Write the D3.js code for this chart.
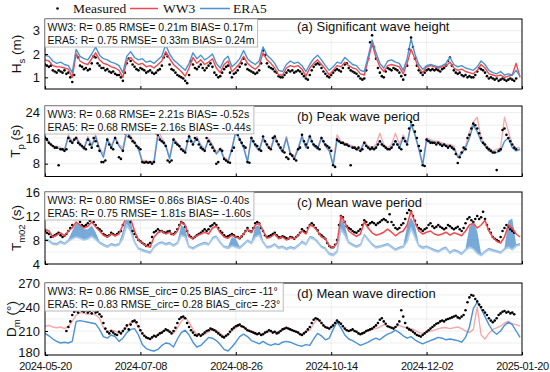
<!DOCTYPE html>
<html><head><meta charset="utf-8">
<script src="https://cdn.jsdelivr.net/npm/d3@7"></script>
<style>body{margin:0;background:#fff}svg{display:block}text{font-family:"Liberation Sans",Arial,sans-serif;fill:#111}</style>
</head><body><svg id="c" width="550" height="372"></svg>
<script>
// ---------------- DATA ----------------
const startDate = "2024-05-20";
const lineStepDays = 2;   // model series sampled every 2 days; measured sampled daily
const xTickLabels = ["2024-05-20","2024-07-08","2024-08-26","2024-10-14","2024-12-02","2025-01-20"];
const legendLabels = ["Measured","WW3","ERA5"];
const panelTitles = ["(a) Significant wave height","(b) Peak wave period","(c) Mean wave period","(d) Mean wave direction"];
const statsA = ["WW3: R= 0.85 RMSE= 0.21m BIAS= 0.17m","ERA5: R= 0.75 RMSE= 0.33m BIAS= 0.24m"];
const statsB = ["WW3: R= 0.68 RMSE= 2.21s BIAS= -0.52s","ERA5: R= 0.68 RMSE= 2.16s BIAS= -0.44s"];
const statsC = ["WW3: R= 0.80 RMSE= 0.86s BIAS= -0.40s","ERA5: R= 0.75 RMSE= 1.81s BIAS= -1.60s"];
const statsD = ["WW3: R= 0.86 RMSE_circ= 0.25 BIAS_circ= -11°","ERA5: R= 0.83 RMSE_circ= 0.28 BIAS_circ= -23°"];
const hsTicks = [1,2,3], tpTicks = [8,16,24], tmTicks = [4,8,12,16], dmTicks = [180,210,240,270];

const hsMeasured = [1.55,1.5,1.45,1.5,1.3,1.25,1.2,1.3,1.25,1.2, 1.3,1.15,1.2,1.0,0.8,1.1,1.95,1.85,1.5,1.45,
 1.35,1.4,1.3,1.35,1.6,1.9,1.85,1.6,1.5,1.4, 1.4,1.3,1.35,1.25,1.2,1.25,1.15,1.1,1.1,1.0,
 0.85,1.2,1.6,1.8,1.7,1.55,1.45,1.35,1.3,1.4, 1.35,1.3,1.2,1.25,1.3,1.2,1.15,1.2,1.3,1.35,
 1.5,1.85,2.0,1.9,1.55,1.35,1.3,1.2,1.1,1.05, 1.0,0.95,0.85,0.75,1.1,1.7,1.55,1.4,1.35,1.45,
 1.55,1.4,1.3,1.4,1.5,1.6,1.45,1.2,1.1,1.0, 1.05,1.2,1.35,1.45,1.5,1.2,1.0,1.15,1.2,1.3,
 1.45,1.6,1.8,1.55,1.35,1.3,1.25,1.2,1.15,1.2, 1.3,1.6,2.15,1.95,1.6,1.45,1.4,1.35,1.25,1.2,
 1.05,1.0,1.0,1.1,1.2,1.3,1.25,1.3,1.2,1.25, 1.3,1.25,1.15,1.05,0.95,0.9,1.1,1.3,1.45,1.55,
 1.6,1.55,1.4,1.25,1.15,1.05,1.0,1.1,1.2,1.3, 1.35,1.3,1.25,1.4,1.55,1.6,1.4,1.3,1.25,1.2,
 1.15,1.05,0.95,0.9,0.95,1.3,1.8,2.5,2.8,2.3, 1.8,1.4,1.2,1.05,1.0,1.25,1.4,1.35,1.3,1.4,
 1.35,1.3,1.2,1.05,0.9,1.1,1.5,2.2,2.7,2.3, 1.8,1.5,1.3,1.2,1.1,1.2,1.3,1.35,1.3,1.35,
 1.3,1.35,1.3,1.25,1.35,1.4,1.5,1.7,1.85,1.5, 1.3,1.2,1.15,1.2,1.1,1.05,1.1,1.0,1.05,1.0,
 1.0,1.1,1.25,1.4,1.35,1.3,1.2,1.05,0.95,1.0, 0.95,0.9,0.95,0.85,0.9,0.95,0.9,0.85,0.9,0.95,
 0.9,0.85,0.95,null,null,null];
const hsWW3 = [1.75,1.7,1.5,1.45,1.45,1.4,1.35,1.0,2.0,1.7, 1.6,1.55,1.8,2.05,1.75,1.6,1.55,1.45,1.4,1.3,
 1.0,1.7,1.85,1.65,1.55,1.6,1.45,1.5,1.4,1.55, 1.7,2.1,1.8,1.55,1.4,1.25,1.05,1.4,1.85,1.6,
 1.75,1.55,1.65,1.8,1.4,1.2,1.55,1.7,1.25,1.4, 1.6,1.9,1.6,1.45,1.35,1.5,2.05,1.75,1.6,1.4,
 1.1,1.1,1.4,1.5,1.45,1.5,1.35,1.05,1.4,1.6, 1.75,1.55,1.35,1.1,1.3,1.5,1.45,1.65,1.5,1.4,
 1.35,1.15,1.1,1.75,2.45,1.85,1.45,1.25,1.5,1.55, 1.5,1.45,1.15,1.6,2.2,1.8,1.4,1.2,1.45,1.5,
 1.45,1.4,1.45,1.5,1.65,1.4,1.3,1.35,1.25,1.2, 1.15,1.3,1.55,1.4,1.15,1.1,1.05,1.1,1.0,1.05,
 1.1,1.6,1.0];
const hsERA5 = [1.95,1.9,1.7,1.6,1.65,1.55,1.5,1.2,2.2,1.9, 1.8,1.75,2.0,2.3,1.95,1.8,1.75,1.65,1.6,1.5,
 1.2,1.9,2.1,1.85,1.75,1.8,1.65,1.7,1.6,1.75, 1.9,2.4,2.0,1.75,1.6,1.45,1.3,1.6,2.05,1.8,
 1.95,1.75,1.85,2.0,1.6,1.4,1.75,1.9,1.45,1.6, 1.8,2.15,1.8,1.65,1.55,1.7,2.3,1.95,1.8,1.6,
 1.3,1.25,1.55,1.7,1.6,1.65,1.5,1.25,1.55,1.8, 1.95,1.75,1.5,1.3,1.45,1.65,1.6,1.85,1.7,1.55,
 1.5,1.3,1.25,1.9,2.6,2.05,1.6,1.4,1.7,1.75, 1.65,1.6,1.3,1.8,2.65,2.0,1.55,1.35,1.5,1.55,
 1.5,1.45,1.5,1.6,1.85,1.55,1.45,1.5,1.4,1.35, 1.3,1.45,1.7,1.55,1.3,1.2,1.15,1.25,1.1,1.15,
 1.1,1.3,1.05];

const tpMeasured = [16,15.5,14.5,14,13.5,13,13,7.5,12.5,12.5, 12,12.5,16,15,14.5,15.5,16,14.5,14,13.5,
 13,12.5,15.5,14,13,16,15,13.5,12,8.5, 8.5,9,15.5,14,13,12.5,16,14.5,10,9.5,
 12,17.5,18,16.5,16,15,14.5,13.5,13,12.5, 8.5,8.3,8.5,8.3,8.5,8,8.5,17.5,17,15.5,
 15,14.5,13.5,9,8.5,9,15.5,14.5,14,13.5, 12.5,12,11.5,15,16.5,15,14,16,15.5,14,
 13,12.5,12,16,15,14,13,12,8,8.5, 12.5,12,9.5,9,8.5,8.3,12,13,18,17,
 15.5,14.5,13.5,13,8.5,8.3,16,15,14,13.5, 12.5,12,16.5,15,14,13,12.5,16,16.5,15,
 14,13,12,11.5,10,9.5,11,10.5,9.5,9, 12.5,13,17,15,14,13,16.5,15,14,13.5,
 13,12.5,16,15,14,13.5,13,12,7.5,7, 15.5,15,14.5,14.5,14,14,13.5,7.5,13,13,
 12.5,13,12,12.5,14.5,13.5,13,12.5,13,12.5, 13,14,15,14,13.5,13,12.5,12.5,13,14,
 15,14,13,12.5,16,15,14,19,21,20, 18,16,13.5,12,7.5,7.3,15.5,15,14.5,14.5,
 14.5,14,14.5,14,13.5,14,13.5,13,13.5,13, 12.5,11,8.2,10,11.5,13,12.5,16,17,19,
 20.5,20,19,17.5,16,14.5,14,13,12.5,12, 11.5,11.5,6,12,12.5,18.5,19,17,16,15,
 14,13,12.5,null,null,null];
const tpWW3 = [16,15,13.5,13.5,13,12.5,17,15,16.5,14.5, 13,16.5,14,17,13,11,16,13.5,16.5,14,
 13,19,16.5,15,13,9,9,8.5,9,18.5, 16,14,10,16,14.5,13,12,17,14.5,16.5,
 14,12.5,16,14,11.5,13,10,9,13,18.5, 16,13.5,9,16.5,14,12.5,16.5,14,13,17,
 14,12,16.5,11.5,10,13,17,13.5,17,14, 13,16.5,14,12.5,8,17,15,14.5,14,13.5,
 13,12.5,15,13.5,13,14,17.5,14,13,14, 17.5,14,17,14.5,20,17.5,13,8,16,15.5,
 15,15,14.5,14,14,13.5,10.5,11.5,13.5,18, 21,22.5,16,14,13,12,12.5,13,22.5,18,
 14,13,13];
const tpERA5 = [16.5,14.5,13.5,13,12.5,12,16.5,14.5,16,14, 12.5,16,13.5,16.5,12.5,10,15.5,13,16,13.5,
 12,18,16,14.5,12.5,8.5,8.5,8.3,8.5,17, 15,13.5,9.5,15.5,14,12.5,11.5,16.5,14,16,
 13.5,12,15.5,13.5,11,12.5,9.5,8.5,12.5,18, 15.5,13,8.5,16,13.5,12,16,13.5,12.5,16.5,
 13.5,11.5,16,11,9.5,12.5,16.5,13,16.5,13.5, 12.5,16,13.5,12,7.5,15.5,14.5,14,13.5,13,
 12.5,12,14.5,13,12.5,13,15,13.5,12.5,13, 15,13,16,14,20.5,17,12.5,7.5,15.5,15,
 14.5,14.5,14,13.5,13.5,13,10,11,13,16, 20,18,15,13.5,12,11.5,11.5,12,15,16,
 13,12,12.5];

const tmMeasured = [9.5,9.2,9,8.5,8.6,8.8,9,9.2,8.8,8.5, 8.7,9,9.5,10,10.5,11.5,12,11.5,11,10.5,
 10.3,10.5,10.8,11.2,11.5,11,10.5,10,9.8,9.5, 9,8.8,8.6,8.8,9.2,9,8.8,9,9.3,9.5,
 10.5,11.5,12.3,12,11,9.5,9,8.5,8,7.8, 7.5,7.3,7,7.2,7.5,8.5,9.3,9.5,9.8,9.5,
 9.5,9.3,9.2,9.4,9.5,9,9,9.3,9.8,10.5, 11,10.8,10.2,9.5,8.8,8.5,8.3,8.5,8.8,9,
 9.2,9.5,9.8,9.5,9.8,10.3,10.5,10.8,10.5,10, 9.5,9.2,8.8,8.5,8.6,8.8,9,8.8,8.5,8.5,
 8.3,8.6,9,9.5,10,9.5,9.4,10,10.8,11, 10.8,10,9.5,8.8,8.5,8.6,8.8,9,9.2,8.8,
 8.5,8.4,8.6,8.5,8.3,8.2,8.5,8.4,8.2,8.5, 8.8,9.2,9.8,9.5,9.3,10,10.5,10.8,10.5,10,
 9.6,9,8.8,8.5,8.2,7.5,7,6.8,6.8,7.2, 8,10.5,12,11.8,11,10.3,10,9.8,9.5,9.3,
 9.2,9.5,9.8,10.5,11.3,11,10.5,10.8,11,10.8, 10.5,10.8,11,11.3,11.5,11.3,11,12.3,11,10.5,
 10,9.8,10,10.5,10.8,11.5,12.5,13,12.8,12, 11.2,10.5,10,9.8,9.5,9.8,10,10.5,10.8,10.3,
 10,10.2,10.5,10.2,10,9.8,10,10.5,10.3,10, 9.8,10,10.2,9.8,9.5,10,10.8,11.5,11.8,11.3,
 11,11.5,12,11.5,11.8,12.7,11.5,10.5,9.8,9.2, 8.5,8.2,8,7.8,8.5,9.5,10,10.5,10.2,9.8,
 9.5,9.2,null,null,null,null];
const tmWW3 = [9.8,9.5,8.5,8.8,9.2,8.7,9.5,10,11,10.5, 10,10.3,11,10.2,9.5,8.8,8.5,9,8.7,9,
 10.5,12,11.5,9.5,8,7.5,7,6.8,8.5,9.2, 9.5,9,9.3,8.8,9.5,11,10.5,8.5,8.3,8.7,
 9,9.3,9,10,10.3,9.2,8.5,8.3,8.8,8.5, 8.3,9,9.8,9.2,10.5,10.8,9.5,8.3,8.5,9,
 8.2,8.5,8,8.4,8.2,8.8,9.5,9,10.5,10.2, 9.5,8.5,8.2,7,6.7,7.5,12,11,9.5,9,
 8.6,9,11,10,9.2,8.8,9,9.3,9.8,9.3, 8.7,9.2,9.5,10.5,12.8,11,9.5,9,9.3,9.5,
 9,8.8,9,9.3,8.8,9.2,9,8.7,9.5,10.5, 10.8,10,10.5,11.3,9.5,8.5,7.8,7.5,8.5,10.5,
 10,9,8.5];
const tmERA5 = [8,7.8,7.3,7.2,7.6,7.3,7.8,8.2,8.5,8.3, 8,8.2,8.6,8.1,7.5,7.1,6.8,7.2,7,7.2,
 8.3,10.5,9.5,7.6,6.5,6.2,6,5.8,6.8,7.3, 7.5,7.2,7.4,7,7.4,8.8,8.5,6.8,6.5,6.9,
 7.2,7.4,7.2,8.2,8.5,7.5,6.8,6.6,7,6.8, 6.6,7.2,7.8,7.4,8.5,8.8,7.6,6.7,6.8,7.2,
 6.6,6.8,6.4,6.7,6.5,7,7.6,7.2,8.4,8.2, 7.6,6.8,6.5,5.6,5.4,6,9.8,8.8,7.5,7.1,
 6.8,7.1,8.8,8,7.2,6.7,6.8,7,7.2,6.8, 6.3,6.6,6.8,7.8,10,8.5,7,6.6,6.8,6.5,
 6.2,6,6.4,6.6,5.8,6.2,6,5.6,6.3,6.8, 6.5,5.8,5.4,6,6.4,6.2,6,5.8,6.4,6.8,
 6.4,7,7.2];
const tmERA5Upper = [8.3,8.1,7.6,7.5,7.9,7.6,8.1,9.5,10.8,10.6, 9.8,9.8,10.4,9.3,7.8,7.4,7.1,7.5,7.3,7.5,
 9.5,12.2,11.3,7.9,6.8,6.5,6.3,6.1,7.1,7.6, 7.8,7.5,7.7,7.3,7.7,10.5,10,7.1,6.8,7.2,
 7.5,7.7,7.5,8.5,8.8,7.8,7.1,6.9,8.5,8.2, 6.9,7.5,8.1,7.7,10.2,10.5,7.9,7,7.1,7.5,
 6.9,7.1,6.7,7,6.8,7.3,7.9,7.5,8.7,8.5, 7.9,7.1,6.8,5.9,5.7,6.3,11.8,10.5,7.8,7.4,
 7.1,7.4,9.1,8.3,7.5,7,7.1,7.3,7.5,7.1, 6.6,6.9,7.1,10.3,11.8,10.5,7.3,6.9,7.1,6.8,
 6.5,6.3,6.7,6.9,6.1,6.5,6.3,5.9,6.6,10.2, 10.8,9.5,5.7,6.3,6.7,6.5,6.3,6.1,6.7,11.2,
 11.6,7.3,7.5];

const dmMeasured = [null,null,null,null,null,null,null,null,null,null, null,210,215,222,230,234,236,233,237,235,
 234,236,233,235,232,236,233,234,231,228, 220,213,209,207,210,208,206,205,209,207,
 210,213,217,212,218,222,223,221,216,211, 207,204,202,201,200,202,204,203,205,207,
 208,210,212,211,209,207,210,214,220,225, 227,228,226,220,215,211,208,205,204,206,
 204,206,208,210,211,213,212,211,209,207, 205,203,202,204,206,209,212,214,216,217,
 218,216,215,213,211,210,209,208,207,206, 207,205,206,208,209,211,210,208,209,207,
 208,210,212,213,214,213,212,211,210,209, 208,206,205,207,209,212,215,220,224,226,
 225,223,220,217,215,214,213,215,217,220, 223,221,219,216,213,211,210,211,212,210,
 209,207,206,207,208,210,211,212,213,215, 217,220,224,226,222,219,216,215,214,213,
 215,218,222,236,228,220,214,212,211,209, 207,205,204,203,205,207,209,211,213,215,
 217,219,220,222,223,222,224,225,226,227, 228,229,227,226,228,230,236,246,252,255,
 254,250,247,243,240,236,233,230,226,223, 221,223,226,230,232,234,235,233,234,232,
 233,231,null,null,null,null];
const dmWW3 = [216,217,215,214,215,213,216,222,230,233, 232,231,232,230,226,214,209,211,210,207,
 209,215,221,222,215,206,202,201,203,206, 208,211,210,207,214,222,227,221,212,206,
 204,206,209,212,211,207,203,205,210,214, 217,215,212,210,208,207,206,208,210,208,
 209,212,213,212,210,208,206,209,211,219, 225,221,214,213,218,223,219,212,210,211,
 209,207,208,210,212,213,215,218,216,214, 215,217,215,214,213,211,208,207,208,210,
 211,213,214,214,213,214,215,213,210,208, 212,240,205,200,207,212,214,216,220,222,
 219,218,216];
const dmERA5 = [207,204,200,197,195,196,195,197,222,223, 222,221,220,219,212,203,201,205,203,197,
 201,208,212,213,205,193,188,186,185,187, 192,195,194,190,200,208,211,205,196,190,
 192,197,202,201,198,193,187,185,190,196, 203,206,203,198,196,194,197,194,192,194,
 193,196,197,196,194,192,191,193,192,200, 207,204,199,201,212,221,214,205,200,198,
 195,192,194,196,199,201,199,203,206,208, 211,208,204,201,203,199,196,194,196,198,
 200,202,201,199,200,199,198,196,202,215, 238,246,238,228,218,210,206,210,217,221,
 218,210,202];

// ---------------- CHART ----------------
const RED = "#ee4a4d", PINK = "#f6a9ab", BLUE = "#4a92d3", LIGHTBLUE = "#a9cbea", DARKBLUE = "#4a8ccc";
const FONT = '"Liberation Sans",Arial,sans-serif';
const SERIF = '"Liberation Serif","Times New Roman",serif';
const svg = d3.select("#c");
const parse = d3.utcParse("%Y-%m-%d");
const t0 = parse(startDate);
const dayDates = hsMeasured.map((_, i) => d3.utcDay.offset(t0, i));
const lineDates = hsWW3.map((_, i) => d3.utcDay.offset(t0, i * lineStepDays));
const tickDates = xTickLabels.map(parse);
const X0 = 45, X1 = 522;
const x = d3.scaleUtc().domain([tickDates[0], tickDates[tickDates.length-1]]).range([X0, X1]);

const panels = [
 {top:19, bottom:89, domain:[0.5,3.5], ticks:hsTicks, grid:0.5, label:["H","s"," (m)"], labelX:21, title:panelTitles[0], titleY:31, stats:statsA,
  draw:[{type:"dots", data:hsMeasured}, {type:"line", data:hsWW3, color:RED, w:1.4}, {type:"line", data:hsERA5, color:BLUE, w:1.4}]},
 {top:106, bottom:176.5, domain:[4,26], ticks:tpTicks, grid:4, label:["T","p"," (s)"], labelX:20, title:panelTitles[1], titleY:120.5, stats:statsB,
  draw:[{type:"line", data:tpWW3, color:PINK, w:1.3}, {type:"line", data:tpERA5, color:BLUE, w:1.4}, {type:"dots", data:tpMeasured}]},
 {top:192, bottom:264, domain:[4,16], ticks:tmTicks, grid:2, label:["T","m02"," (s)"], labelX:21, title:panelTitles[2], titleY:206.5, stats:statsC,
  draw:[{type:"band", lo:tmERA5, hi:tmERA5Upper, color:DARKBLUE}, {type:"line", data:tmERA5, color:LIGHTBLUE, w:1.8}, {type:"dots", data:tmMeasured}, {type:"line", data:tmWW3, color:RED, w:1.5}]},
 {top:283, bottom:355, domain:[180,270], ticks:dmTicks, grid:15, label:["D","m"," (°)"], labelX:16, title:panelTitles[3], titleY:298, stats:statsD,
  draw:[{type:"line", data:dmWW3, color:PINK, w:1.4}, {type:"line", data:dmERA5, color:BLUE, w:1.4}, {type:"dots", data:dmMeasured}]}
];

panels.forEach((p, pi) => {
  const y = d3.scaleLinear().domain(p.domain).range([p.bottom, p.top]);
  const g = svg.append("g");
  const clipId = "clip" + pi;
  svg.append("clipPath").attr("id", clipId).append("rect")
    .attr("x", X0).attr("y", p.top).attr("width", X1 - X0).attr("height", p.bottom - p.top);
  // grid
  const gridVals = d3.range(p.domain[0], p.domain[1] + 1e-9, p.grid);
  g.selectAll(".hg").data(gridVals).join("line")
    .attr("x1", X0).attr("x2", X1).attr("y1", d => y(d)).attr("y2", d => y(d))
    .attr("stroke", "#e6e6e6").attr("stroke-width", 0.7);
  g.selectAll(".vg").data(tickDates.slice(1, -1)).join("line")
    .attr("x1", d => x(d)).attr("x2", d => x(d)).attr("y1", p.top).attr("y2", p.bottom)
    .attr("stroke", "#e6e6e6").attr("stroke-width", 0.7);

  const plot = g.append("g").attr("clip-path", `url(#${clipId})`);
  p.draw.forEach(s => {
    if (s.type === "line") {
      const line = d3.line().defined(v => v != null).x((v, i) => x(lineDates[i])).y(v => y(v));
      plot.append("path").attr("d", line(s.data)).attr("fill", "none")
        .attr("stroke", s.color).attr("stroke-width", s.w).attr("stroke-linejoin", "round");
    } else if (s.type === "band") {
      const area = d3.area().x((v, i) => x(lineDates[i])).y0((v, i) => y(s.lo[i])).y1(v => y(v));
      plot.append("path").attr("d", area(s.hi)).attr("fill", s.color).attr("opacity", 0.75);
    } else if (s.type === "dots") {
      const pts = s.data.map((v, i) => [dayDates[i], v]).filter(d => d[1] != null);
      plot.selectAll(null).data(pts).join("circle")
        .attr("cx", d => x(d[0])).attr("cy", d => y(d[1])).attr("r", 1.3).attr("fill", "#000");
    }
  });

  // frame
  g.append("rect").attr("x", X0).attr("y", p.top).attr("width", X1 - X0).attr("height", p.bottom - p.top)
    .attr("fill", "none").attr("stroke", "#000").attr("stroke-width", 1);

  // y axis (inward ticks)
  const ya = g.append("g").attr("transform", `translate(${X0},0)`)
    .call(d3.axisLeft(y).tickValues(p.ticks).tickFormat(d3.format("d")).tickSizeInner(-3).tickSizeOuter(0).tickPadding(5));
  ya.select(".domain").remove();
  ya.selectAll("text").style("font-size", "13px").style("font-family", FONT).attr("fill", "#111");
  if (pi === panels.length - 1) ya.selectAll("text").filter(d => d === p.domain[0]).attr("dy", "0.1em");
  ya.selectAll("line").attr("stroke", "#000");

  // x axis
  const xa = g.append("g").attr("transform", `translate(0,${p.bottom})`)
    .call(d3.axisBottom(x).tickValues(tickDates).tickSizeInner(-3).tickSizeOuter(0).tickPadding(7)
      .tickFormat(pi === panels.length - 1 ? d3.utcFormat("%Y-%m-%d") : () => ""));
  xa.select(".domain").remove();
  xa.selectAll("line").attr("stroke", "#000");
  xa.selectAll("text").style("font-size", "11px").style("letter-spacing", "-0.4px")
    .style("font-family", FONT).attr("fill", "#111");

  // y label
  const lab = g.append("text").attr("transform", `translate(${p.labelX},${(p.top + p.bottom) / 2}) rotate(-90)`)
    .attr("text-anchor", "middle").style("font-size", "13.5px");
  lab.append("tspan").text(p.label[0]);
  lab.append("tspan").attr("dy", 3.5).style("font-size", "9.5px").text(p.label[1]);
  lab.append("tspan").attr("dy", -3.5).text(p.label[2]);

  // title
  g.append("text").attr("x", 297).attr("y", p.titleY).style("font-size", "13px").text(p.title);

  // stats box
  const sb = g.append("g");
  const rect = sb.append("rect");
  const tg = sb.append("g");
  p.stats.forEach((t, k) => {
    tg.append("text").attr("x", X0 + 2.5).attr("y", p.top + 11.5 + k * 13).style("font-size", "10.5px").text(t);
  });
  const bb = tg.node().getBBox();
  rect.attr("x", X0).attr("y", p.top).attr("width", bb.x + bb.width + 3 - X0).attr("height", 28)
    .attr("fill", "#fff").attr("stroke", "#aaa").attr("stroke-width", 0.8);
});

// legend
const lg = svg.append("g");
const legendItems = [
  {kind:"dot", x:57.5, tx:73, label:legendLabels[0]},
  {kind:"line", x1:130, x2:158, color:RED, tx:163, label:legendLabels[1]},
  {kind:"line", x1:200, x2:230, color:BLUE, tx:233, label:legendLabels[2]}
];
legendItems.forEach(it => {
  if (it.kind === "dot") lg.append("circle").attr("cx", it.x).attr("cy", 8.5).attr("r", 1.3).attr("fill", "#000");
  else lg.append("line").attr("x1", it.x1).attr("x2", it.x2).attr("y1", 8.5).attr("y2", 8.5).attr("stroke", it.color).attr("stroke-width", 1.5);
  lg.append("text").attr("x", it.tx).attr("y", 13).style("font-size", "13.5px").style("font-family", SERIF).text(it.label);
});
</script></body></html>
